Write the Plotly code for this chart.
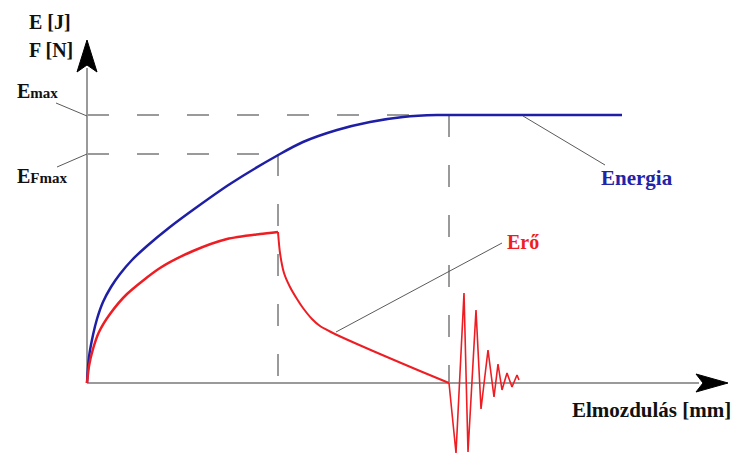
import plotly.graph_objects as go

# Data (arbitrary units: displacement vs. energy / force)
energy_x = [0, 2, 6, 10, 16, 24, 33, 45, 60, 83, 110, 143, 193, 216, 250, 283, 316, 350, 363, 535]
energy_y = [0, 26, 48, 64, 81, 96, 109, 123, 137, 156, 176, 199, 229, 241, 253, 261, 266, 268, 268, 268]

force_rise_x = [0, 2, 6, 12, 23, 40, 73, 106, 140, 173, 191]
force_rise_y = [0, 17, 34, 51, 69, 89, 115, 132, 144, 149, 151]

force_drop_x = [191, 193, 197, 203, 210, 216, 225, 233, 242, 250, 270, 300, 333, 362]
force_drop_y = [151, 130, 110, 96, 84, 75, 64, 57, 52, 48, 39, 26, 12, 0]

osc_x = [362, 369, 377, 381, 389, 394, 401, 407, 411, 415, 420, 425, 430, 432]
osc_y = [0, -70, 90, -69, 73, -26, 33, -14, 19, -7, 10, -4, 8, 3]

x_fmax = 191      # displacement at max force
x_end = 362       # displacement at end of energy rise
e_max = 268
e_fmax = 229

BLUE = "#1f1fa5"
RED = "#ee1d23"
GRAY = "#9a9a9a"
DARK = "#5a5a5a"
FONT = "Liberation Serif"

fig = go.Figure()
fig.add_trace(go.Scatter(x=energy_x, y=energy_y, mode="lines",
                         line=dict(color=BLUE, width=2.5, shape="spline", smoothing=0.7),
                         hoverinfo="skip"))
fig.add_trace(go.Scatter(x=force_rise_x, y=force_rise_y, mode="lines",
                         line=dict(color=RED, width=2.5, shape="spline", smoothing=0.7),
                         hoverinfo="skip"))
fig.add_trace(go.Scatter(x=force_drop_x, y=force_drop_y, mode="lines",
                         line=dict(color=RED, width=2, shape="spline", smoothing=0.7),
                         hoverinfo="skip"))
fig.add_trace(go.Scatter(x=osc_x, y=osc_y, mode="lines",
                         line=dict(color=RED, width=1.6),
                         hoverinfo="skip"))

shapes = []
# axes
shapes.append(dict(type="line", x0=0, y0=0, x1=612, y1=0, line=dict(color=GRAY, width=2), layer="below"))
shapes.append(dict(type="line", x0=0, y0=0, x1=0, y1=315, line=dict(color=GRAY, width=2), layer="below"))
# arrowheads
shapes.append(dict(type="path", path="M 0 343 L -10 311 L 0 318 L 10 311 Z",
                   fillcolor="black", line=dict(color="black", width=1)))
shapes.append(dict(type="path", path="M 641 0 L 609 9 L 616 0 L 609 -9 Z",
                   fillcolor="black", line=dict(color="black", width=1)))
# dashed guides
dash = "22px,28px"
shapes.append(dict(type="line", x0=0, y0=e_max, x1=x_end, y1=e_max, line=dict(color=GRAY, width=2, dash=dash), layer="below"))
shapes.append(dict(type="line", x0=0, y0=e_fmax, x1=x_fmax, y1=e_fmax, line=dict(color=GRAY, width=2, dash=dash), layer="below"))
shapes.append(dict(type="line", x0=x_fmax, y0=e_fmax, x1=x_fmax, y1=-6, line=dict(color=GRAY, width=2, dash=dash), layer="below"))
shapes.append(dict(type="line", x0=x_end, y0=e_max, x1=x_end, y1=0, line=dict(color=GRAY, width=2, dash=dash), layer="below"))
# label leader lines
shapes.append(dict(type="line", x0=-31, y0=280, x1=0, y1=267, line=dict(color=DARK, width=1)))
shapes.append(dict(type="line", x0=-30, y0=216, x1=0, y1=229, line=dict(color=DARK, width=1)))
shapes.append(dict(type="line", x0=249, y0=51, x1=415, y1=140, line=dict(color=DARK, width=1)))
shapes.append(dict(type="line", x0=436, y0=267, x1=518, y1=218, line=dict(color=DARK, width=1)))

ann = []
def label(text, x, y, color="#111", size=20, xanchor="left"):
    ann.append(dict(text=text, x=x, y=y, xref="x", yref="y", showarrow=False,
                    xanchor=xanchor, yanchor="middle",
                    font=dict(family=FONT, size=size, color=color)))

label("<b>E [J]</b>", -60, 361)
label("<b>F [N]</b>", -60, 333)
label("<b>E<span style='font-size:15px'>max</span></b>", -72, 292)
label("<b>E<span style='font-size:15px'>Fmax</span></b>", -72, 207)
label("<b>Energia</b>", 550, 205, color="#2323a8", xanchor="center", size=21)
label("<b>Erő</b>", 418, 141, color=RED)
label("<b>Elmozdulás [mm]</b>", 646, -27, xanchor="right", size=21)

fig.update_layout(
    width=734, height=456, autosize=False,
    margin=dict(l=0, r=0, t=0, b=0),
    paper_bgcolor="white", plot_bgcolor="white",
    showlegend=False,
    xaxis=dict(range=[-87, 647], visible=False, fixedrange=True),
    yaxis=dict(range=[-73, 383], visible=False, fixedrange=True),
    shapes=shapes, annotations=ann,
)

fig.write_html("out.html", config={"displayModeBar": False},
               post_script="document.body.style.margin='0';document.body.style.overflow='hidden';")
